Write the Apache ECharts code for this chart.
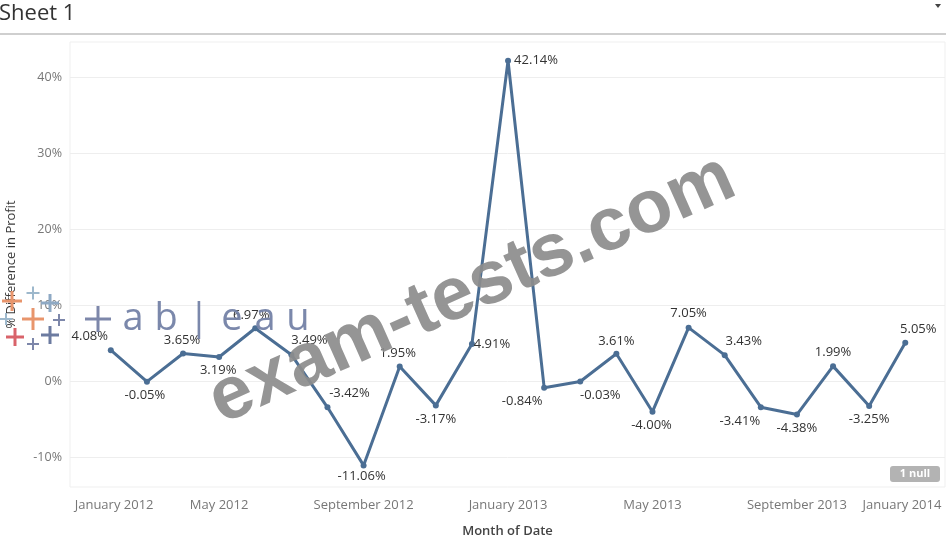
<!DOCTYPE html>
<html>
<head>
<meta charset="utf-8">
<script src="https://cdn.jsdelivr.net/npm/echarts@6/dist/echarts.min.js"></script>
<style>
html,body{margin:0;padding:0;background:#fff;}
#chart{width:946px;height:544px;}
</style>
</head>
<body>
<div id="chart"></div>
<script>
// ---- data ----
const months = ['January 2012','February 2012','March 2012','April 2012','May 2012','June 2012','July 2012','August 2012','September 2012','October 2012','November 2012','December 2012','January 2013','February 2013','March 2013','April 2013','May 2013','June 2013','July 2013','August 2013','September 2013','October 2013','November 2013','December 2013','January 2014'];
const pctDiff = [null, 4.08, -0.05, 3.65, 3.19, 6.97, 3.49, -3.42, -11.06, 1.95, -3.17, 4.91, 42.14, -0.84, -0.03, 3.61, -4.00, 7.05, 3.43, -3.41, -4.38, 1.99, -3.25, 5.05];
const yTicks = [-10, 0, 10, 20, 30, 40];
const xTickIdx = [0, 4, 8, 12, 16, 20, 24];

// ---- label placement (layout only) ----
const labelOffsets = [null,[-21,-14],[-2,14],[-1,-13],[-1,13],[-4,-13],[18,-14],[22,-14],[-2,11],[-2,-13],[0,14],[20,0],[28,0],[-22,14],[20,14],[0,-13],[-1,14],[0,-14],[19,-14],[-21,14],[0,14],[0,-14],[0,13],[13,-14]];

const FONT = '"Open Sans", "Noto Sans", sans-serif';
const lineColor = '#4b6e94';

const seriesData = [];
pctDiff.forEach((v, i) => {
  if (v === null) return;
  seriesData.push({ value: [i, v], label: { offset: labelOffsets[i] } });
});

const chart = echarts.init(document.getElementById('chart'), null, { renderer: 'canvas' });

// decorative logo overlay
const logoChars = ['a','b','|','e','a','u'];
const logoGraphics = logoChars.map((c, k) => ({
  type: 'text', x: 133 + k * 33, y: 319, z: 50,
  style: { text: c, fill: '#7482a6', font: '38px ' + FONT, align: 'center', verticalAlign: 'middle', opacity: 0.95 }
}));
const crossSpecs = [
  { cx: 98, cy: 319, s: 26, w: 3, c: '#7d87aa' },
  { cx: 33, cy: 293, s: 13, w: 2, c: '#9db8cc' },
  { cx: 12, cy: 301, s: 20, w: 3, c: '#e8956c' },
  { cx: 50, cy: 303, s: 18, w: 3, c: '#8ea9c4' },
  { cx: 33, cy: 319, s: 22, w: 3, c: '#e8956c' },
  { cx: 6, cy: 319, s: 12, w: 2, c: '#9db8cc' },
  { cx: 59, cy: 320, s: 12, w: 2, c: '#7d87aa' },
  { cx: 15, cy: 337, s: 18, w: 3, c: '#d9636a' },
  { cx: 50, cy: 335, s: 18, w: 3, c: '#6c7ba0' },
  { cx: 33, cy: 344, s: 12, w: 2, c: '#7d87aa' }
];
const crosses = [];
crossSpecs.forEach(p => {
  crosses.push({ type: 'rect', z: 50, shape: { x: p.cx - p.s / 2, y: p.cy - p.w / 2, width: p.s, height: p.w }, style: { fill: p.c } });
  crosses.push({ type: 'rect', z: 50, shape: { x: p.cx - p.w / 2, y: p.cy - p.s / 2, width: p.w, height: p.s }, style: { fill: p.c } });
});

chart.setOption({
  backgroundColor: '#ffffff',
  animation: false,
  textStyle: { fontFamily: FONT },
  grid: {
    left: 70, right: 1, top: 42, bottom: 57,
    outerBoundsMode: 'none',
    containLabel: false,
    show: true, borderColor: '#efefef', borderWidth: 1
  },
  xAxis: {
    type: 'value',
    min: -0.13,
    max: 24.1,
    name: 'Month of Date',
    nameLocation: 'middle',
    nameGap: 38,
    nameTextStyle: { color: '#444', fontSize: 13, fontWeight: 600, fontFamily: FONT },
    axisLine: { show: false },
    axisTick: { show: false, customValues: xTickIdx },
    splitLine: { show: false },
    axisLabel: {
      customValues: xTickIdx,
      formatter: v => months[Math.round(v)],
      color: '#777', fontSize: 13, fontFamily: FONT, margin: 12,
      alignMinLabel: 'left', alignMaxLabel: 'right',
      showMinLabel: true, showMaxLabel: true
    }
  },
  yAxis: {
    type: 'value',
    min: -13.9,
    max: 44.6,
    name: '% Difference in Profit',
    nameLocation: 'middle',
    nameGap: 52,
    nameRotate: 90,
    nameTextStyle: { color: '#3a3a3a', fontSize: 13, fontFamily: FONT },
    axisLine: { show: false },
    axisTick: { show: false, customValues: yTicks },
    axisLabel: {
      customValues: yTicks,
      formatter: v => v + '%',
      color: '#777', fontSize: 12.5, fontFamily: FONT, margin: 8
    },
    splitLine: { show: true, lineStyle: { color: '#eeeeee', width: 1 } }
  },
  series: [{
    type: 'line',
    data: seriesData,
    symbol: 'circle',
    symbolSize: 6,
    itemStyle: { color: lineColor },
    lineStyle: { color: lineColor, width: 3 },
    z: 10,
    label: {
      show: true,
      position: 'inside',
      formatter: p => p.value[1].toFixed(2) + '%',
      color: '#333',
      fontSize: 13,
      fontFamily: FONT
    },
    emphasis: { disabled: true }
  }],
  graphic: [
    { type: 'text', left: -1, top: 3, style: { text: 'Sheet 1', fill: '#333', font: '22px ' + FONT } },
    { type: 'rect', shape: { x: 0, y: 33, width: 946, height: 2 }, style: { fill: '#cfcfcf' } },
    { type: 'polygon', shape: { points: [[935, 4], [941, 4], [938, 8]] }, style: { fill: '#444' } },
    { type: 'rect', shape: { x: 890, y: 466, width: 50, height: 16, r: 3 }, style: { fill: '#b3b3b3' }, z: 20 },
    { type: 'text', x: 915, y: 474, z: 21, style: { text: '1 null', fill: '#fff', font: 'bold 11px ' + FONT, align: 'center', verticalAlign: 'middle' } },
    ...crosses,
    ...logoGraphics,
    { type: 'text', x: 472, y: 290, rotation: 24 * Math.PI / 180, z: 100,
      style: { text: 'exam-tests.com', fill: '#8c8c8c', opacity: 0.92, font: 'bold 75px "Liberation Sans", Arial, sans-serif', align: 'center', verticalAlign: 'middle' } }
  ]
});
</script>
</body>
</html>
